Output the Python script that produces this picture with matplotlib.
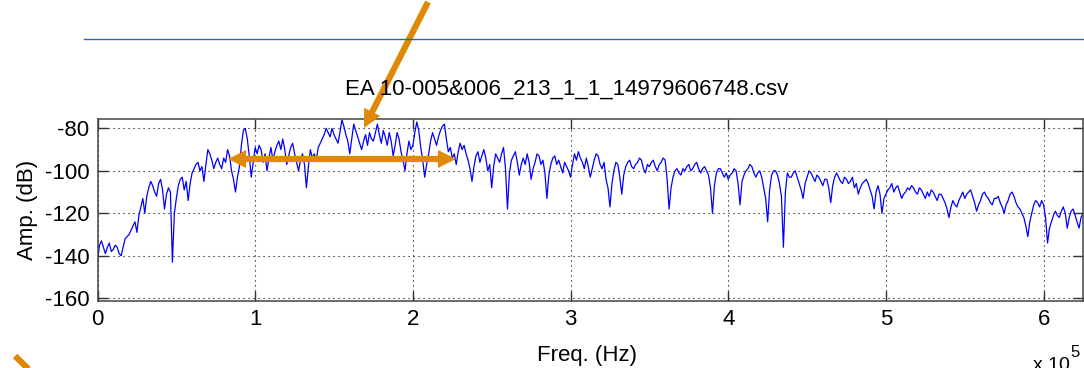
import numpy as np
import matplotlib
matplotlib.use('Agg')
from matplotlib import pyplot as plt
from matplotlib.patches import FancyArrowPatch
from matplotlib.lines import Line2D

plt.rcParams['font.family'] = ['Liberation Sans', 'DejaVu Sans']
plt.rcParams['axes.unicode_minus'] = False

title = 'EA 10-005&006_213_1_1_14979606748.csv'
x_label = 'Freq. (Hz)'
y_label = 'Amp. (dB)'

# spectrum bins, 1.25 kHz apart
df = 1250.0
amp_db = [
    -143, -135, -133, -136, -139, -136, -134, -138, -137, -135,
    -136, -139, -140, -136, -132, -131, -130, -128, -126, -124,
    -129, -121, -117, -113, -120, -112, -108, -105, -107, -110,
    -112, -106, -104, -109, -118, -111, -108, -110, -143, -120,
    -113, -107, -104, -103, -109, -105, -114, -106, -101, -99,
    -97, -96, -100, -98, -105, -97, -90, -92, -95, -99,
    -96, -94, -97, -99, -94, -96, -90, -93, -100, -104,
    -110, -103, -98, -88, -81, -80, -85, -93, -103, -96,
    -89, -92, -88, -90, -96, -92, -100, -94, -89, -95,
    -91, -88, -86, -90, -85, -90, -97, -93, -89, -87,
    -92, -96, -100, -95, -92, -97, -108, -98, -90, -94,
    -92, -95, -89, -87, -85, -83, -80, -82, -84, -80,
    -83, -85, -87, -82, -76, -79, -83, -86, -92, -85,
    -78, -81, -84, -87, -90, -86, -83, -88, -82, -85,
    -86, -82, -78, -83, -87, -81, -84, -88, -82, -86,
    -93, -88, -82, -85, -91, -95, -100, -92, -86, -90,
    -88, -82, -77, -81, -89, -95, -103, -97, -92, -86,
    -82, -85, -88, -84, -81, -79, -78, -85, -91, -89,
    -94, -92, -97, -91, -87, -90, -88, -92, -95, -99,
    -105, -98, -93, -91, -96, -93, -90, -94, -100, -97,
    -108, -98, -92, -94, -96, -92, -89, -99, -118, -101,
    -95, -93, -91, -96, -102, -97, -94, -97, -92, -96,
    -104, -99, -96, -92, -93, -97, -95, -101, -113, -102,
    -97, -94, -93, -97, -95, -98, -101, -96, -98, -100,
    -103, -97, -92, -95, -91, -94, -96, -99, -94, -98,
    -103, -99, -95, -92, -93, -97, -99, -96, -104, -108,
    -117, -106, -100, -96, -97, -103, -111, -102, -98, -96,
    -95, -98, -99, -97, -96, -94, -95, -99, -101, -97,
    -98, -96, -95, -98, -100, -97, -96, -94, -95, -104,
    -118, -108, -103, -100, -99, -101, -102, -99, -100, -98,
    -97, -100, -99, -97, -96, -99, -101, -99, -98, -100,
    -102, -108, -120, -107, -101, -99, -99, -101, -103, -101,
    -104, -102, -101, -99, -100, -106, -116, -105, -102, -100,
    -99, -97, -98, -101, -103, -101, -100, -103, -108, -113,
    -124, -109, -102, -100, -100, -102, -106, -112, -136, -110,
    -101, -103, -103, -101, -100, -103, -106, -109, -113, -106,
    -103, -100, -101, -103, -105, -102, -103, -105, -107, -104,
    -104, -108, -115, -107, -103, -101, -103, -105, -106, -103,
    -104, -106, -105, -103, -108, -106, -111, -108, -106, -105,
    -104, -106, -109, -112, -118, -110, -107, -111, -120, -113,
    -111, -109, -108, -106, -110, -108, -107, -110, -113, -111,
    -110, -108, -109, -107, -108, -110, -111, -108, -109, -111,
    -113, -110, -112, -109, -110, -112, -114, -111, -111, -113,
    -115, -118, -122, -117, -114, -116, -117, -114, -112, -110,
    -113, -111, -110, -109, -112, -115, -119, -116, -114, -111,
    -110, -112, -113, -115, -116, -113, -113, -112, -115, -117,
    -120, -116, -114, -111, -110, -112, -115, -117, -118, -120,
    -122, -126, -131, -124, -120, -116, -114, -115, -117, -114,
    -116, -122, -134, -127, -124, -121, -119, -121, -122, -119,
    -117, -120, -127, -122, -119, -118, -121, -124, -127, -122,
    -120,
]
freq = np.arange(len(amp_db)) * df

x_ticks = [0, 1e5, 2e5, 3e5, 4e5, 5e5, 6e5]
x_tick_labels = ['0', '1', '2', '3', '4', '5', '6']
y_ticks = [-160, -140, -120, -100, -80]

W, H = 1084, 368
fig = plt.figure(figsize=(W / 100, H / 100), dpi=100)
ax = fig.add_axes([97.5 / W, (H - 301) / H, (1083 - 97.5) / W, (301 - 119) / H])

ax.plot(freq, amp_db, color='#0000ff', lw=0.9)
ax.set_xlim(0, 6.25e5)
ax.set_ylim(-161.3, -75.6)
ax.set_xticks(x_ticks)
ax.set_xticklabels(x_tick_labels)
ax.set_yticks(y_ticks)
ax.tick_params(direction='in', length=7, width=1, top=True, right=True,
               labelsize=16, pad=6, color='#333333')
ax.grid(True, color='black', linestyle=(0, (1, 3.5)), linewidth=0.8)
for sp in ax.spines.values():
    sp.set_color('#444444')
    sp.set_linewidth(1.1)

fig.text(567 / W, 1 - 89 / H, title, ha='center', va='center', fontsize=16)
fig.text(587 / W, 1 - 355 / H, x_label, ha='center', va='center', fontsize=16)
fig.text(28 / W, 1 - 210 / H, y_label, ha='center', va='center',
         rotation=90, fontsize=16)
# multiplier is cut by the bottom edge, as in the screenshot
fig.text(1033 / W, 1 - 370 / H, 'x 10', ha='left', va='baseline', fontsize=14)
fig.text(1070 / W, 1 - 357 / H, '5', ha='left', va='baseline', fontsize=12)

# separator line at the top
fig.add_artist(Line2D([84 / W, 1.0], [1 - 38.5 / H, 1 - 38.5 / H],
                      transform=fig.transFigure, color='#2a66a8', lw=1.0))

orange = '#df8a06'
style = 'simple,head_length=13,head_width=13,tail_width=4.5'


def px(x, y):
    return (x / W, 1 - y / H)


def arrow(p0, p1):
    fig.add_artist(FancyArrowPatch(px(*p0), px(*p1), transform=fig.transFigure,
                                   arrowstyle=style, mutation_scale=1,
                                   color=orange, lw=0, shrinkA=0, shrinkB=0))


arrow((428, 2), (364, 128))
arrow((341, 159), (228, 159))
arrow((341, 159), (456, 159))
fig.add_artist(Line2D([15 / W, 42 / W], [1 - 356 / H, 1 - 382 / H],
                      transform=fig.transFigure, color=orange, lw=4.5,
                      solid_capstyle='butt'))

fig.savefig('out.png', dpi=100)
